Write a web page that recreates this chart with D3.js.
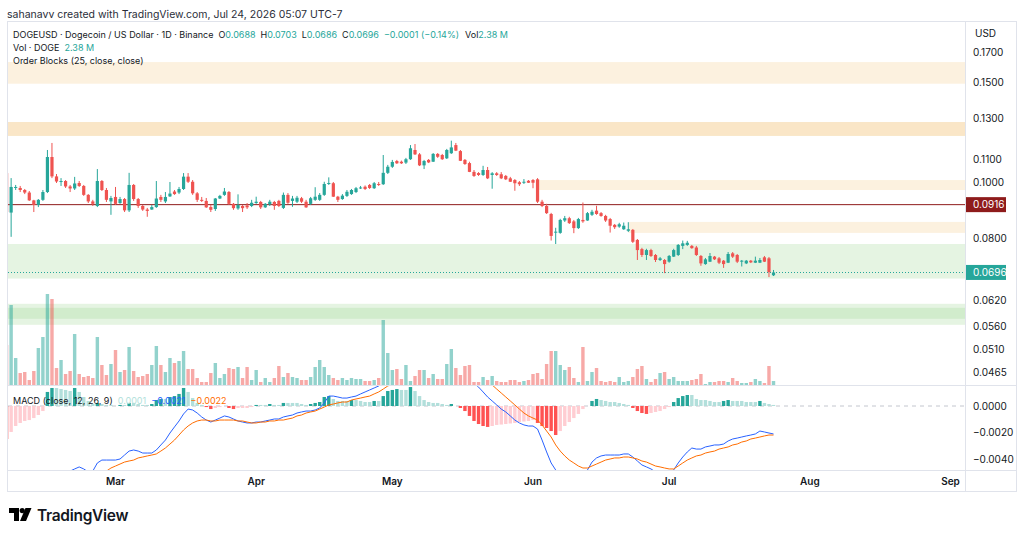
<!DOCTYPE html>
<html>
<head>
<meta charset="utf-8">
<script src="https://cdn.jsdelivr.net/npm/d3@7"></script>
<style>
  body { margin: 0; background: #ffffff; }
  svg { display: block; font-family: Inter, "Noto Sans", sans-serif; }
</style>
</head>
<body>
<svg id="chart" width="1024" height="537"></svg>
<script>
// ---- Data (DOGEUSD, 1D, Binance) ----
var firstDay = new Date(Date.UTC(2026, 1, 5)); // one candle per day from Feb 5

var open = [
  0.1041, 0.0887, 0.0980, 0.0980, 0.0972, 0.0962, 0.0932, 0.0915, 0.0934, 0.0964,
  0.1111, 0.1027, 0.1004, 0.1008, 0.0986, 0.0978, 0.1000, 0.0988, 0.0953, 0.0928,
  0.0911, 0.1008, 0.0972, 0.0928, 0.0945, 0.0922, 0.0937, 0.0895, 0.0992, 0.0937,
  0.0911, 0.0898, 0.0898, 0.0907, 0.0945, 0.0928, 0.0947, 0.0966, 0.0962, 0.0976,
  0.1026, 0.1005, 0.0959, 0.0934, 0.0930, 0.0907, 0.0900, 0.0939, 0.0953, 0.0964,
  0.0919, 0.0902, 0.0911, 0.0913, 0.0911, 0.0922, 0.0926, 0.0906, 0.0917, 0.0926,
  0.0930, 0.0904, 0.0953, 0.0930, 0.0927, 0.0940, 0.0927, 0.0919, 0.0934, 0.0934,
  0.0953, 0.0996, 0.0999, 0.0946, 0.0937, 0.0949, 0.0956, 0.0964, 0.0980, 0.0985,
  0.0992, 0.0979, 0.0996, 0.0995, 0.1042, 0.1068, 0.1093, 0.1090, 0.1086, 0.1101,
  0.1143, 0.1123, 0.1074, 0.1098, 0.1090, 0.1125, 0.1120, 0.1105, 0.1128, 0.1166,
  0.1138, 0.1098, 0.1084, 0.1046, 0.1041, 0.1033, 0.1054, 0.1033, 0.1040, 0.1036,
  0.1029, 0.1019, 0.1012, 0.1003, 0.1001, 0.1009, 0.1012, 0.1015, 0.0927, 0.0911,
  0.0882, 0.0818, 0.0817, 0.0859, 0.0867, 0.0856, 0.0833, 0.0861, 0.0859, 0.0879,
  0.0894, 0.0885, 0.0875, 0.0864, 0.0844, 0.0838, 0.0829, 0.0824, 0.0827, 0.0794,
  0.0765, 0.0747, 0.0762, 0.0747, 0.0732, 0.0732, 0.0727, 0.0742, 0.0747, 0.0775,
  0.0778, 0.0775, 0.0770, 0.0744, 0.0720, 0.0727, 0.0742, 0.0737, 0.0730, 0.0724,
  0.0752, 0.0747, 0.0727, 0.0722, 0.0730, 0.0724, 0.0724, 0.0740, 0.0737, 0.0688
];
var high = [
  0.1041, 0.1020, 0.0992, 0.0988, 0.0976, 0.0968, 0.0934, 0.0937, 0.0972, 0.1143,
  0.1176, 0.1037, 0.1020, 0.1012, 0.0992, 0.1025, 0.1008, 0.0992, 0.0956, 0.0934,
  0.1058, 0.1012, 0.0980, 0.0949, 0.0984, 0.0945, 0.0941, 0.1042, 0.0996, 0.0941,
  0.0915, 0.0904, 0.0915, 0.1008, 0.0953, 0.0964, 0.1004, 0.0972, 0.0984, 0.1041,
  0.1041, 0.1012, 0.0964, 0.0945, 0.0941, 0.0915, 0.0941, 0.0953, 0.0980, 0.0968,
  0.0922, 0.0955, 0.0915, 0.0922, 0.0934, 0.0946, 0.0930, 0.0922, 0.0934, 0.0930,
  0.0934, 0.0962, 0.0960, 0.0949, 0.0949, 0.0945, 0.0934, 0.0945, 0.0983, 0.0960,
  0.1005, 0.1023, 0.1004, 0.0949, 0.0956, 0.0972, 0.0976, 0.0984, 0.0988, 0.0990,
  0.0996, 0.1004, 0.1004, 0.1120, 0.1076, 0.1098, 0.1098, 0.1095, 0.1107, 0.1166,
  0.1171, 0.1129, 0.1098, 0.1102, 0.1129, 0.1129, 0.1125, 0.1148, 0.1187, 0.1176,
  0.1143, 0.1102, 0.1090, 0.1054, 0.1045, 0.1072, 0.1067, 0.1045, 0.1045, 0.1045,
  0.1033, 0.1025, 0.1016, 0.1008, 0.1016, 0.1012, 0.1016, 0.1020, 0.0934, 0.0919,
  0.0886, 0.0834, 0.0865, 0.0875, 0.0872, 0.0861, 0.0868, 0.0924, 0.0889, 0.0897,
  0.0912, 0.0889, 0.0879, 0.0868, 0.0847, 0.0851, 0.0852, 0.0853, 0.0830, 0.0797,
  0.0769, 0.0766, 0.0766, 0.0750, 0.0741, 0.0735, 0.0747, 0.0766, 0.0781, 0.0792,
  0.0791, 0.0778, 0.0775, 0.0747, 0.0738, 0.0753, 0.0744, 0.0741, 0.0732, 0.0756,
  0.0756, 0.0750, 0.0732, 0.0732, 0.0732, 0.0742, 0.0738, 0.0744, 0.0741, 0.0703
];
var low = [
  0.0886, 0.0804, 0.0972, 0.0964, 0.0956, 0.0930, 0.0889, 0.0907, 0.0930, 0.0960,
  0.1020, 0.1000, 0.0988, 0.0980, 0.0964, 0.0972, 0.0984, 0.0949, 0.0922, 0.0911,
  0.0907, 0.0968, 0.0926, 0.0879, 0.0915, 0.0919, 0.0889, 0.0889, 0.0930, 0.0904,
  0.0893, 0.0872, 0.0897, 0.0904, 0.0926, 0.0922, 0.0945, 0.0953, 0.0956, 0.0972,
  0.1000, 0.0953, 0.0926, 0.0926, 0.0904, 0.0889, 0.0893, 0.0937, 0.0949, 0.0915,
  0.0897, 0.0897, 0.0889, 0.0900, 0.0907, 0.0919, 0.0900, 0.0904, 0.0911, 0.0897,
  0.0907, 0.0900, 0.0919, 0.0908, 0.0922, 0.0922, 0.0904, 0.0915, 0.0930, 0.0930,
  0.0949, 0.0992, 0.0945, 0.0926, 0.0934, 0.0945, 0.0953, 0.0960, 0.0976, 0.0972,
  0.0976, 0.0976, 0.0988, 0.0992, 0.1037, 0.1063, 0.1080, 0.1080, 0.1080, 0.1098,
  0.1120, 0.1071, 0.1058, 0.1084, 0.1089, 0.1107, 0.1098, 0.1102, 0.1125, 0.1138,
  0.1093, 0.1076, 0.1045, 0.1025, 0.1029, 0.1029, 0.1016, 0.0977, 0.1029, 0.1016,
  0.1012, 0.1004, 0.0969, 0.0988, 0.0996, 0.1000, 0.0979, 0.0922, 0.0907, 0.0882,
  0.0792, 0.0781, 0.0814, 0.0854, 0.0847, 0.0816, 0.0830, 0.0851, 0.0858, 0.0875,
  0.0879, 0.0872, 0.0854, 0.0818, 0.0830, 0.0834, 0.0827, 0.0820, 0.0784, 0.0732,
  0.0741, 0.0732, 0.0741, 0.0726, 0.0729, 0.0694, 0.0724, 0.0741, 0.0744, 0.0765,
  0.0775, 0.0766, 0.0744, 0.0715, 0.0718, 0.0726, 0.0732, 0.0720, 0.0709, 0.0723,
  0.0738, 0.0723, 0.0713, 0.0720, 0.0723, 0.0723, 0.0723, 0.0726, 0.0683, 0.0686
];
var close = [
  0.0889, 0.0984, 0.0984, 0.0972, 0.0962, 0.0932, 0.0915, 0.0934, 0.0964, 0.1111,
  0.1027, 0.1006, 0.1008, 0.0986, 0.0978, 0.0998, 0.0988, 0.0953, 0.0928, 0.0919,
  0.1008, 0.0972, 0.0934, 0.0941, 0.0919, 0.0937, 0.0895, 0.0992, 0.0937, 0.0911,
  0.0898, 0.0893, 0.0907, 0.0939, 0.0934, 0.0945, 0.0958, 0.0956, 0.0976, 0.1026,
  0.1005, 0.0959, 0.0934, 0.0930, 0.0906, 0.0897, 0.0939, 0.0949, 0.0966, 0.0919,
  0.0903, 0.0915, 0.0903, 0.0906, 0.0923, 0.0927, 0.0906, 0.0919, 0.0927, 0.0911,
  0.0911, 0.0953, 0.0923, 0.0939, 0.0942, 0.0927, 0.0906, 0.0940, 0.0946, 0.0953,
  0.0996, 0.1000, 0.0946, 0.0934, 0.0950, 0.0965, 0.0972, 0.0979, 0.0982, 0.0976,
  0.0980, 0.0999, 0.0992, 0.1042, 0.1068, 0.1089, 0.1083, 0.1083, 0.1101, 0.1151,
  0.1123, 0.1074, 0.1093, 0.1087, 0.1125, 0.1112, 0.1101, 0.1143, 0.1155, 0.1140,
  0.1094, 0.1080, 0.1046, 0.1029, 0.1033, 0.1054, 0.1019, 0.1040, 0.1033, 0.1019,
  0.1015, 0.1005, 0.0999, 0.0995, 0.1005, 0.1001, 0.1001, 0.0927, 0.0911, 0.0885,
  0.0807, 0.0821, 0.0861, 0.0867, 0.0850, 0.0833, 0.0864, 0.0856, 0.0885, 0.0890,
  0.0882, 0.0875, 0.0859, 0.0841, 0.0836, 0.0846, 0.0841, 0.0829, 0.0788, 0.0762,
  0.0747, 0.0762, 0.0744, 0.0732, 0.0737, 0.0720, 0.0744, 0.0762, 0.0778, 0.0783,
  0.0785, 0.0768, 0.0747, 0.0722, 0.0734, 0.0744, 0.0734, 0.0724, 0.0720, 0.0750,
  0.0742, 0.0727, 0.0730, 0.0730, 0.0725, 0.0730, 0.0732, 0.0727, 0.0697, 0.0696
];
// volume in millions of DOGE
var volume = [
  24, 48, 16.2, 7.2, 7.8, 3, 8.4, 22.2, 28.8, 54.6,
  51.6, 10.2, 15, 6.6, 8.4, 30.6, 6.6, 4.8, 5.4, 4.2,
  28.8, 12, 6, 12.6, 21, 7.8, 9, 22.8, 8.4, 4.8,
  5.4, 6.6, 12, 23.4, 12, 7.8, 16.2, 13.2, 14.4, 20.4,
  9.6, 9.6, 4.2, 1.8, 1.8, 7.2, 13.2, 4.2, 6.6, 10.2,
  9.6, 10.8, 4.2, 10.8, 3, 9, 1.8, 4.2, 1.8, 4.2,
  11.4, 4.8, 7.2, 4.8, 4.2, 3, 3, 4.8, 10.8, 15,
  10.8, 6, 4.2, 3, 4.2, 3, 4.2, 3.6, 3.6, 2.4,
  2.4, 3, 4.2, 39, 19.2, 9, 9.6, 3.6, 12, 2.4,
  5.4, 9, 9, 4.2, 6.6, 3.6, 3.6, 12.6, 21.6, 10.2,
  6, 11.4, 12, 1.8, 1.8, 4.8, 3, 5.4, 2.4, 1.8,
  1.8, 3, 3, 1.8, 2.4, 3, 6.6, 7.2, 3.6, 12.6,
  20.4, 20.4, 12, 9, 10.8, 4.2, 1.8, 22.8, 2.4, 7.8,
  10.2, 2.4, 1.8, 2.4, 1.8, 4.8, 1.8, 2.4, 4.8, 9.6,
  11.4, 3.6, 1.8, 3.6, 7.2, 7.8, 3.6, 4.8, 2.4, 2.4,
  2.4, 3, 3.6, 6.6, 0.6, 1.8, 1.8, 2.4, 2.4, 1.8,
  4.2, 2.4, 1.2, 1.2, 1.8, 3.6, 2.4, 1.2, 11.4, 2.38
];
// MACD (12, 26, 9): macd line, signal line, histogram
var macdLine = [
  -0.00936, -0.00921, -0.00898, -0.00875, -0.00845, -0.00823, -0.00800, -0.00770, -0.00732, -0.00634,
  -0.00574, -0.00543, -0.00521, -0.00506, -0.00491, -0.00475, -0.00460, -0.00475, -0.00498, -0.00491,
  -0.00430, -0.00408, -0.00408, -0.00408, -0.00408, -0.00400, -0.00370, -0.00340, -0.00332, -0.00340,
  -0.00355, -0.00355, -0.00355, -0.00332, -0.00294, -0.00257, -0.00204, -0.00158, -0.00113, -0.00060,
  -0.00023, -0.00030, -0.00053, -0.00083, -0.00106, -0.00121, -0.00106, -0.00091, -0.00075, -0.00083,
  -0.00098, -0.00113, -0.00121, -0.00128, -0.00128, -0.00121, -0.00121, -0.00113, -0.00106, -0.00098,
  -0.00098, -0.00083, -0.00075, -0.00068, -0.00053, -0.00045, -0.00038, -0.00038, -0.00030, -0.00015,
  0.00023, 0.00075, 0.00075, 0.00068, 0.00060, 0.00060, 0.00068, 0.00075, 0.00091, 0.00106,
  0.00121, 0.00136, 0.00151, 0.00181, 0.00211, 0.00242, 0.00264, 0.00279, 0.00294, 0.00317,
  0.00325, 0.00317, 0.00309, 0.00302, 0.00302, 0.00294, 0.00294, 0.00294, 0.00287, 0.00272,
  0.00249, 0.00226, 0.00204, 0.00174, 0.00143, 0.00106, 0.00068, 0.00038, 0.00008, -0.00023,
  -0.00045, -0.00075, -0.00106, -0.00128, -0.00143, -0.00151, -0.00151, -0.00174, -0.00257, -0.00347,
  -0.00430, -0.00483, -0.00558, -0.00596, -0.00619, -0.00634, -0.00619, -0.00558, -0.00483, -0.00423,
  -0.00392, -0.00377, -0.00370, -0.00370, -0.00370, -0.00370, -0.00362, -0.00362, -0.00385, -0.00415,
  -0.00445, -0.00460, -0.00475, -0.00498, -0.00521, -0.00528, -0.00513, -0.00483, -0.00430, -0.00385,
  -0.00347, -0.00317, -0.00325, -0.00325, -0.00309, -0.00302, -0.00294, -0.00294, -0.00287, -0.00264,
  -0.00249, -0.00242, -0.00234, -0.00226, -0.00219, -0.00211, -0.00189, -0.00196, -0.00204, -0.00211
];
var signalLine = [
  -0.00823, -0.00800, -0.00777, -0.00755, -0.00732, -0.00709, -0.00687, -0.00664, -0.00642, -0.00619,
  -0.00604, -0.00589, -0.00574, -0.00558, -0.00551, -0.00543, -0.00536, -0.00528, -0.00521, -0.00513,
  -0.00506, -0.00498, -0.00491, -0.00468, -0.00453, -0.00438, -0.00423, -0.00415, -0.00408, -0.00392,
  -0.00385, -0.00377, -0.00370, -0.00362, -0.00340, -0.00317, -0.00287, -0.00257, -0.00219, -0.00181,
  -0.00151, -0.00128, -0.00113, -0.00106, -0.00106, -0.00113, -0.00113, -0.00106, -0.00106, -0.00106,
  -0.00106, -0.00113, -0.00113, -0.00121, -0.00128, -0.00128, -0.00121, -0.00121, -0.00113, -0.00113,
  -0.00106, -0.00106, -0.00098, -0.00091, -0.00075, -0.00068, -0.00053, -0.00045, -0.00038, -0.00023,
  -0.00008, 0.00008, 0.00015, 0.00023, 0.00030, 0.00030, 0.00045, 0.00053, 0.00060, 0.00068,
  0.00075, 0.00091, 0.00106, 0.00128, 0.00151, 0.00166, 0.00189, 0.00204, 0.00219, 0.00234,
  0.00249, 0.00257, 0.00264, 0.00272, 0.00279, 0.00279, 0.00287, 0.00287, 0.00287, 0.00287,
  0.00287, 0.00279, 0.00272, 0.00257, 0.00242, 0.00219, 0.00189, 0.00159, 0.00128, 0.00098,
  0.00068, 0.00038, 0.00008, -0.00023, -0.00053, -0.00075, -0.00091, -0.00106, -0.00143, -0.00189,
  -0.00234, -0.00294, -0.00340, -0.00377, -0.00408, -0.00430, -0.00453, -0.00468, -0.00468, -0.00453,
  -0.00438, -0.00423, -0.00408, -0.00400, -0.00392, -0.00392, -0.00385, -0.00385, -0.00392, -0.00400,
  -0.00415, -0.00423, -0.00438, -0.00453, -0.00460, -0.00468, -0.00475, -0.00475, -0.00453, -0.00430,
  -0.00408, -0.00392, -0.00377, -0.00370, -0.00355, -0.00347, -0.00340, -0.00325, -0.00317, -0.00309,
  -0.00294, -0.00287, -0.00272, -0.00264, -0.00249, -0.00242, -0.00234, -0.00226, -0.00219, -0.00219
];
var macdHist = [
  -0.00249, -0.00196, -0.00151, -0.00128, -0.00113, -0.00106, -0.00091, -0.00068, -0.00038, 0.00106,
  0.00136, 0.00136, 0.00128, 0.00121, 0.00113, 0.00136, 0.00106, 0.00068, 0.00038, 0.00015,
  0.00023, 0.00015, 0.00008, 0.00008, 0, 0.00008, 0.00008, 0.00023, 0.00023, 0.00015,
  0.00008, 0.00008, 0.00015, 0.00045, 0.00053, 0.00053, 0.00068, 0.00075, 0.00091, 0.00136,
  0.00106, 0.00060, 0.00023, 0.00008, -0.00008, -0.00023, -0.00015, -0.00008, 0, -0.00015,
  -0.00023, -0.00015, -0.00015, -0.00015, -0.00008, 0.00008, 0.00008, 0.00008, 0.00015, 0.00008,
  0.00008, 0.00023, 0.00023, 0.00023, 0.00023, 0.00015, 0.00008, 0.00015, 0.00023, 0.00030,
  0.00068, 0.00075, 0.00053, 0.00038, 0.00038, 0.00038, 0.00045, 0.00045, 0.00038, 0.00030,
  0.00030, 0.00038, 0.00038, 0.00075, 0.00113, 0.00121, 0.00128, 0.00121, 0.00121, 0.00143,
  0.00113, 0.00075, 0.00045, 0.00030, 0.00023, 0.00023, 0.00015, 0.00008, 0.00015, 0,
  -0.00015, -0.00038, -0.00075, -0.00113, -0.00136, -0.00151, -0.00158, -0.00151, -0.00143, -0.00140,
  -0.00136, -0.00132, -0.00128, -0.00121, -0.00117, -0.00113, -0.00106, -0.00128, -0.00151, -0.00166,
  -0.00189, -0.00219, -0.00189, -0.00151, -0.00121, -0.00091, -0.00060, -0.00023, 0, 0.00038,
  0.00053, 0.00045, 0.00038, 0.00030, 0.00030, 0.00023, 0.00015, 0.00008, -0.00015, -0.00038,
  -0.00053, -0.00060, -0.00053, -0.00045, -0.00038, -0.00023, -0.00008, 0.00030, 0.00060, 0.00075,
  0.00083, 0.00083, 0.00053, 0.00045, 0.00045, 0.00038, 0.00030, 0.00030, 0.00038, 0.00045,
  0.00038, 0.00038, 0.00038, 0.00030, 0.00030, 0.00030, 0.00038, 0.00023, 0.00015, 0.00008
];

// Order Blocks (25, close, close): [top, bottom, first day]; null = starts before visible range
var bearBlocks = [
  [0.1632, 0.1495, null],
  [0.1280, 0.1210, null],
  [0.1280, 0.1210, null],
  [0.1012, 0.0972, Date.UTC(2026, 5, 2)],
  [0.0854, 0.0817, Date.UTC(2026, 5, 22)]
];
var bullBlocks = [
  [0.0781, 0.0679, null],
  [0.0613, 0.0563, null],
  [0.0603, 0.0577, null]
];
var levelLine = 0.0916;
var lastPrice = 0.0696;

var priceTicks = [0.17, 0.15, 0.13, 0.11, 0.10, 0.08, 0.062, 0.056, 0.051, 0.0465];
var macdTicks = [0, -0.002, -0.004];

// ---- Layout ----
var paneLeft = 8, paneRight = 965;
var priceTop = 22, priceBottom = 385;
var macdTop = 386, macdBottom = 470;
var upColor = "#26a69a", downColor = "#ef5350";

var svg = d3.select("#chart");

var candles = open.map(function (o, i) {
  return {
    date: d3.utcDay.offset(firstDay, i),
    open: o, high: high[i], low: low[i], close: close[i],
    volume: volume[i], macd: macdLine[i], signal: signalLine[i], hist: macdHist[i]
  };
});

// Scales
var x = d3.scaleUtc()
  .domain([Date.UTC(2026, 2, 1), Date.UTC(2026, 8, 1)])
  .range([115.5, 950.5]);
var y = d3.scaleLog()
  .domain([0.0465, 0.17])
  .range([372, 52]);
var volY = d3.scaleLinear()
  .domain([0, 54.6])
  .range([priceBottom, priceBottom - 91]);
var macdY = d3.scaleLinear()
  .domain([-0.004, 0])
  .range([459, 406]);

// Clip paths for the two panes
var defs = svg.append("defs");
defs.append("clipPath").attr("id", "clipPrice")
  .append("rect").attr("x", paneLeft).attr("y", priceTop)
  .attr("width", paneRight - paneLeft).attr("height", priceBottom - priceTop);
defs.append("clipPath").attr("id", "clipMacd")
  .append("rect").attr("x", paneLeft).attr("y", macdTop)
  .attr("width", paneRight - paneLeft).attr("height", macdBottom - macdTop);

// Header line
svg.append("text")
  .attr("x", 7).attr("y", 18)
  .attr("font-size", 10.5).attr("fill", "#2a2e39")
  .text("sahanavv created with TradingView.com, Jul 24, 2026 05:07 UTC-7");

// Frame
svg.append("rect")
  .attr("x", 7.5).attr("y", 21.5).attr("width", 1009).attr("height", 470)
  .attr("fill", "none").attr("stroke", "#e0e3eb");
svg.append("line").attr("x1", paneRight + 0.5).attr("x2", paneRight + 0.5)
  .attr("y1", 21.5).attr("y2", 491.5).attr("stroke", "#e0e3eb");
svg.append("line").attr("x1", 7.5).attr("x2", 1016.5)
  .attr("y1", priceBottom + 0.5).attr("y2", priceBottom + 0.5).attr("stroke", "#e0e3eb");
svg.append("line").attr("x1", 7.5).attr("x2", 1016.5)
  .attr("y1", macdBottom + 0.5).attr("y2", macdBottom + 0.5).attr("stroke", "#e0e3eb");

// ---- Price pane ----
var price = svg.append("g").attr("clip-path", "url(#clipPrice)");

function blockX(start) {
  return start === null ? paneLeft : x(new Date(start));
}

price.selectAll(".bear")
  .data(bearBlocks)
  .enter()
  .append("rect")
  .attr("class", "bear")
  .attr("x", function (d) { return blockX(d[2]); })
  .attr("y", function (d) { return y(d[0]); })
  .attr("width", function (d) { return paneRight - blockX(d[2]); })
  .attr("height", function (d) { return y(d[1]) - y(d[0]); })
  .attr("fill", "rgba(244, 200, 130, 0.26)");

price.selectAll(".bull")
  .data(bullBlocks)
  .enter()
  .append("rect")
  .attr("class", "bull")
  .attr("x", function (d) { return blockX(d[2]); })
  .attr("y", function (d) { return y(d[0]); })
  .attr("width", function (d) { return paneRight - blockX(d[2]); })
  .attr("height", function (d) { return y(d[1]) - y(d[0]); })
  .attr("fill", "rgba(150, 212, 140, 0.25)");

// Volume overlay
price.selectAll(".vol")
  .data(candles)
  .enter()
  .append("rect")
  .attr("class", "vol")
  .attr("x", function (d) { return x(d.date) - 1.7; })
  .attr("width", 3.4)
  .attr("y", function (d) { return volY(d.volume); })
  .attr("height", function (d) { return priceBottom - volY(d.volume); })
  .attr("fill", function (d) {
    return d.close >= d.open ? "rgba(38, 166, 154, 0.5)" : "rgba(239, 83, 80, 0.5)";
  });

// Horizontal level and last price line
price.append("line")
  .attr("x1", paneLeft).attr("x2", paneRight)
  .attr("y1", y(levelLine)).attr("y2", y(levelLine))
  .attr("stroke", "#8e1b1b").attr("stroke-width", 1);
price.append("line")
  .attr("x1", paneLeft).attr("x2", paneRight)
  .attr("y1", Math.round(y(lastPrice)) + 0.5).attr("y2", Math.round(y(lastPrice)) + 0.5)
  .attr("stroke", upColor).attr("stroke-width", 1).attr("stroke-dasharray", "1,2");

// Candles
var candle = price.selectAll(".candle")
  .data(candles)
  .enter()
  .append("g")
  .attr("class", "candle")
  .attr("fill", function (d) { return d.close >= d.open ? upColor : downColor; })
  .attr("stroke", function (d) { return d.close >= d.open ? upColor : downColor; });

candle.append("line")
  .attr("x1", function (d) { return x(d.date); })
  .attr("x2", function (d) { return x(d.date); })
  .attr("y1", function (d) { return y(d.high); })
  .attr("y2", function (d) { return y(d.low); })
  .attr("stroke-width", 1);

candle.append("rect")
  .attr("stroke", "none")
  .attr("x", function (d) { return x(d.date) - 1.6; })
  .attr("width", 3.2)
  .attr("y", function (d) { return y(Math.max(d.open, d.close)); })
  .attr("height", function (d) {
    return Math.max(1, y(Math.min(d.open, d.close)) - y(Math.max(d.open, d.close)));
  });

// ---- MACD pane ----
var macd = svg.append("g").attr("clip-path", "url(#clipMacd)");

macd.append("line")
  .attr("x1", paneLeft).attr("x2", paneRight)
  .attr("y1", macdY(0)).attr("y2", macdY(0))
  .attr("stroke", "#c3c6ce").attr("stroke-dasharray", "4,4");

macd.selectAll(".hist")
  .data(candles)
  .enter()
  .append("rect")
  .attr("class", "hist")
  .attr("x", function (d) { return x(d.date) - 1.7; })
  .attr("width", 3.4)
  .attr("y", function (d) { return macdY(Math.max(0, d.hist)); })
  .attr("height", function (d) { return Math.abs(macdY(d.hist) - macdY(0)); })
  .attr("fill", function (d, i) {
    var prev = i > 0 ? candles[i - 1].hist : 0;
    if (d.hist >= 0) return d.hist > prev ? "#26a69a" : "#b2dfdb";
    return d.hist < prev ? "#ff5252" : "#ffcdd2";
  });

var macdPath = d3.line()
  .x(function (d) { return x(d.date); })
  .y(function (d) { return macdY(d.macd); });
var signalPath = d3.line()
  .x(function (d) { return x(d.date); })
  .y(function (d) { return macdY(d.signal); });

macd.append("path")
  .attr("d", macdPath(candles))
  .attr("fill", "none").attr("stroke", "#2962ff").attr("stroke-width", 1);
macd.append("path")
  .attr("d", signalPath(candles))
  .attr("fill", "none").attr("stroke", "#ff6d00").attr("stroke-width", 1);

// ---- Legends ----
var legend = svg.append("g").attr("font-size", 9).attr("fill", "#131722");

var line1 = legend.append("text").attr("x", 13).attr("y", 37.5);
line1.append("tspan").text("DOGEUSD · Dogecoin / US Dollar · 1D · Binance");
var ohlc = [["O", "0.0688"], ["H", "0.0703"], ["L", "0.0686"], ["C", "0.0696"]];
ohlc.forEach(function (p, i) {
  line1.append("tspan").attr("dx", 5).text(p[0]);
  line1.append("tspan").attr("fill", upColor).text(p[1]);
});
line1.append("tspan").attr("dx", 5).attr("fill", upColor).text("−0.0001 (−0.14%)");
line1.append("tspan").attr("dx", 6).text("Vol");
line1.append("tspan").attr("fill", upColor).text("2.38 M");

var line2 = legend.append("text").attr("x", 13).attr("y", 50.5);
line2.append("tspan").text("Vol · DOGE");
line2.append("tspan").attr("dx", 5).attr("fill", upColor).text("2.38 M");

legend.append("text").attr("x", 13).attr("y", 63.5).text("Order Blocks (25, close, close)");

var line4 = legend.append("text").attr("x", 13).attr("y", 403.5);
line4.append("tspan").text("MACD (close, 12, 26, 9)");
line4.append("tspan").attr("dx", 5).attr("fill", "#b2dfdb").text("0.0001");
line4.append("tspan").attr("dx", 5).attr("fill", "#2962ff").text("−0.0021");
line4.append("tspan").attr("dx", 5).attr("fill", "#ff6d00").text("−0.0022");

// ---- Price axis ----
var axis = svg.append("g").attr("font-size", 10).attr("fill", "#131722");
axis.append("text").attr("x", 975).attr("y", 37).text("USD");

axis.selectAll(".ptick")
  .data(priceTicks)
  .enter()
  .append("text")
  .attr("class", "ptick")
  .attr("x", 973)
  .attr("y", function (d) { return y(d) + 3.5; })
  .text(function (d) { return d.toFixed(4); });

axis.selectAll(".mtick")
  .data(macdTicks)
  .enter()
  .append("text")
  .attr("class", "mtick")
  .attr("x", 973)
  .attr("y", function (d) { return macdY(d) + 3.5; })
  .text(function (d) { return d3.format(".4f")(d).replace("-", "−"); });

// Price labels on the axis
function priceLabel(value, color) {
  var cy = y(value);
  axis.append("rect")
    .attr("x", 966).attr("y", cy - 7.5).attr("width", 40).attr("height", 15)
    .attr("fill", color);
  axis.append("text")
    .attr("x", 973).attr("y", cy + 3.5).attr("fill", "#ffffff")
    .text(value.toFixed(4));
}
priceLabel(levelLine, "#8e1b1b");
priceLabel(lastPrice, upColor);

// ---- Time axis ----
svg.append("g")
  .selectAll("text")
  .data(d3.utcMonth.range(new Date(Date.UTC(2026, 2, 1)), new Date(Date.UTC(2026, 8, 2))))
  .enter()
  .append("text")
  .attr("x", function (d) { return x(d); })
  .attr("y", 485)
  .attr("text-anchor", "middle")
  .attr("font-size", 10)
  .attr("font-weight", 600)
  .attr("fill", "#131722")
  .text(d3.utcFormat("%b"));

// ---- TradingView logo ----
var logo = svg.append("g").attr("transform", "translate(9,508)").attr("fill", "#000000");
logo.append("path").attr("d", "M0 0 H10 V13 H5 V5 H0 Z");
logo.append("circle").attr("cx", 13.2).attr("cy", 2.6).attr("r", 2.6);
logo.append("path").attr("d", "M16.5 0 H22.5 L17 13 H11 Z");
svg.append("text")
  .attr("x", 37).attr("y", 521)
  .attr("font-size", 15.5).attr("font-weight", 600)
  .attr("fill", "#131722")
  .attr("letter-spacing", -0.3)
  .text("TradingView");
</script>
</body>
</html>
